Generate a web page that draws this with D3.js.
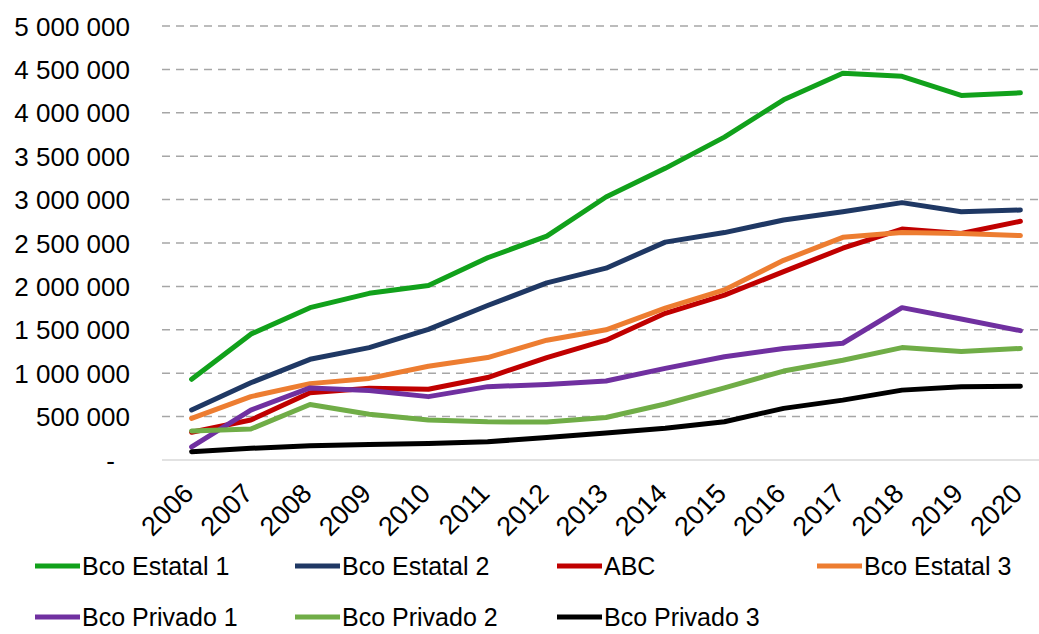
<!DOCTYPE html>
<html>
<head>
<meta charset="utf-8">
<script src="https://cdn.jsdelivr.net/npm/d3@7"></script>
<style>
  html, body { margin: 0; padding: 0; background: #fff; }
  svg { display: block; font-family: "Liberation Sans", Arial, sans-serif; }
</style>
</head>
<body>
<svg id="chart" width="1039" height="634"></svg>
<script>
// Years on the category axis
const years = ["2006","2007","2008","2009","2010","2011","2012","2013","2014","2015","2016","2017","2018","2019","2020"];

// Series names and colours
const seriesNames = ["Bco Estatal 1","Bco Estatal 2","ABC","Bco Estatal 3","Bco Privado 1","Bco Privado 2","Bco Privado 3"];
const seriesColors = ["#11a11b","#1f3864","#c00000","#ed7d31","#7030a0","#70ad47","#000000"];

// Values per series, one per year
const bcoEstatal1 = [930000,1450000,1755000,1920000,2010000,2330000,2580000,3030000,3360000,3720000,4150000,4455000,4420000,4200000,4230000];
const bcoEstatal2 = [576000,890000,1160000,1295000,1505000,1780000,2040000,2210000,2510000,2620000,2765000,2860000,2965000,2860000,2880000];
const abc         = [320000,460000,775000,826000,815000,950000,1180000,1380000,1690000,1900000,2170000,2440000,2660000,2610000,2750000];
const bcoEstatal3 = [480000,730000,880000,940000,1080000,1180000,1380000,1500000,1750000,1960000,2300000,2565000,2620000,2610000,2585000];
const bcoPrivado1 = [150000,575000,830000,800000,730000,845000,870000,910000,1055000,1190000,1285000,1345000,1755000,1625000,1490000];
const bcoPrivado2 = [335000,357000,640000,527000,460000,440000,437000,490000,645000,830000,1025000,1150000,1295000,1250000,1285000];
const bcoPrivado3 = [96000,135000,165000,180000,190000,210000,260000,310000,365000,440000,595000,690000,805000,845000,850000];

// Y axis ticks
const yTicks = [0,500000,1000000,1500000,2000000,2500000,3000000,3500000,4000000,4500000,5000000];

const seriesValues = [bcoEstatal1, bcoEstatal2, abc, bcoEstatal3, bcoPrivado1, bcoPrivado2, bcoPrivado3];
const series = seriesNames.map((name, i) => ({
  name, color: seriesColors[i],
  values: years.map((y, j) => ({ year: y, value: seriesValues[i][j] }))
}));

const svg = d3.select("#chart");
const plot = { left: 162, right: 1050, top: 26, bottom: 460 };

const x = d3.scalePoint().domain(years).range([plot.left, plot.right]).padding(0.5);
const y = d3.scaleLinear().domain([0, 5000000]).range([plot.bottom, plot.top]);

const fmt = v => v === 0 ? "-" : d3.format(",")(v).replace(/,/g, " ");

// Horizontal gridlines
svg.append("g")
  .selectAll("line")
  .data(yTicks.filter(t => t > 0))
  .join("line")
  .attr("x1", plot.left).attr("x2", plot.right)
  .attr("y1", d => y(d)).attr("y2", d => y(d))
  .attr("stroke", "#a6a6a6").attr("stroke-width", 1.5)
  .attr("stroke-dasharray", "8,6");

// Baseline
svg.append("line")
  .attr("x1", plot.left).attr("x2", plot.right)
  .attr("y1", y(0)).attr("y2", y(0))
  .attr("stroke", "#d9d9d9").attr("stroke-width", 1.5);

// Y axis labels
const yAxis = d3.axisLeft(y).tickValues(yTicks).tickFormat(fmt).tickSize(0).tickPadding(32);
const gy = svg.append("g").attr("transform", `translate(${plot.left},0)`).call(yAxis);
gy.select(".domain").remove();
gy.selectAll("text")
  .attr("font-size", 26).attr("fill", "#000")
  .attr("font-family", "Liberation Sans, Arial, sans-serif")
  .attr("dy", "0.35em")
  .attr("dx", d => d === 0 ? -15 : 0);

// X axis labels, rotated
const xAxis = d3.axisBottom(x).tickSize(0).tickPadding(0);
const gx = svg.append("g").attr("transform", `translate(0,${plot.bottom})`).call(xAxis);
gx.select(".domain").remove();
gx.selectAll("text")
  .attr("font-size", 27).attr("fill", "#000")
  .attr("font-family", "Liberation Sans, Arial, sans-serif")
  .attr("text-anchor", "end")
  .attr("dy", null)
  .attr("transform", "translate(3,35) rotate(-45)");

// Lines
const line = d3.line().x(d => x(d.year)).y(d => y(d.value));
svg.append("g")
  .selectAll("path")
  .data(series)
  .join("path")
  .attr("d", d => line(d.values))
  .attr("fill", "none")
  .attr("stroke", d => d.color)
  .attr("stroke-width", 5)
  .attr("stroke-linejoin", "round")
  .attr("stroke-linecap", "round");

// Legend: two rows, four columns
const legendCols = [35, 295, 557, 817];
const legendRows = [566, 617];
const legend = svg.append("g")
  .selectAll("g")
  .data(series)
  .join("g")
  .attr("transform", (d, i) => `translate(${legendCols[i % 4]},${legendRows[Math.floor(i / 4)]})`);
legend.append("line")
  .attr("x1", 0).attr("x2", 45).attr("y1", 0).attr("y2", 0)
  .attr("stroke", d => d.color).attr("stroke-width", 5);
legend.append("text")
  .attr("x", 47).attr("y", 0).attr("dy", "0.35em")
  .attr("font-size", 25).attr("fill", "#000")
  .text(d => d.name);
</script>
</body>
</html>
